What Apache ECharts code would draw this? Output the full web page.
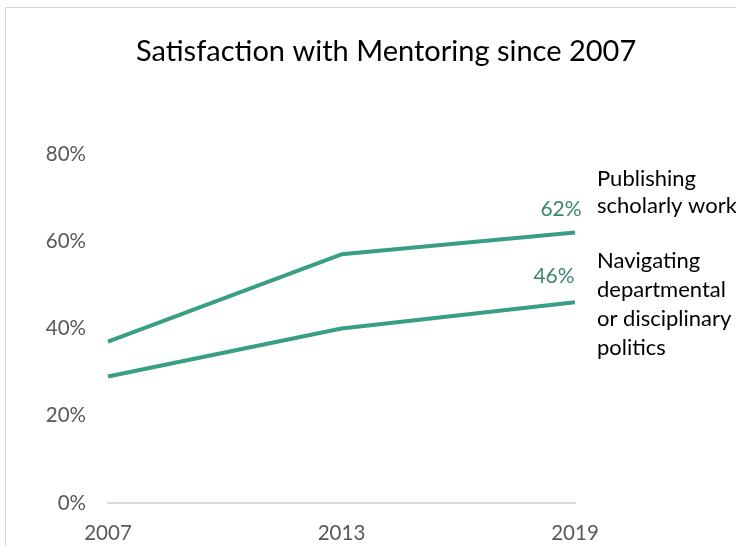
<!DOCTYPE html>
<html>
<head>
<meta charset="utf-8">
<script src="https://cdn.jsdelivr.net/npm/echarts@6/dist/echarts.min.js"></script>
<style>
  html, body { margin: 0; padding: 0; background: #fff; }
  #chart { width: 736px; height: 546px; }
</style>
</head>
<body>
<div id="chart"></div>
<script>
// Survey years and share satisfied (%)
const years = ['2007', '2013', '2019'];
const publishing = [37, 57, 62];
const navigating = [29, 40, 46];
const yTicks = [0, 20, 40, 60, 80];
const seriesNames = ['Publishing\nscholarly work', 'Navigating\ndepartmental\nor disciplinary\npolitics'];

const FONT = 'Lato, "Open Sans", sans-serif';
const LINE = '#3a9e85';
const LABEL = '#3b8571';

const chart = echarts.init(document.getElementById('chart'), null, { renderer: 'canvas' });

// Value label shown only on the last point of each line
function endLabel(offset) {
  return {
    show: true,
    position: 'top',
    offset: offset,
    color: LABEL,
    fontFamily: FONT,
    fontSize: 21,
    formatter: p => (p.dataIndex === years.length - 1 ? p.value + '%' : '')
  };
}

chart.setOption({
  animation: false,
  backgroundColor: '#fff',
  title: {
    text: 'Satisfaction with Mentoring since 2007',
    left: 131,
    top: 32,
    textStyle: { fontFamily: FONT, fontSize: 29, fontWeight: 'normal', color: '#000' }
  },
  graphic: [
    {
      type: 'rect',
      shape: { x: 5.5, y: 7.5, width: 800, height: 600 },
      style: { fill: 'none', stroke: '#d9d9d9', lineWidth: 1 },
      silent: true
    },
    {
      type: 'text', left: 597, top: 165,
      style: { text: seriesNames[0], fontFamily: FONT, fontSize: 22, lineHeight: 27, fill: '#000' }
    },
    {
      type: 'text', left: 597, top: 246,
      style: { text: seriesNames[1], fontFamily: FONT, fontSize: 22, lineHeight: 29, fill: '#000' }
    }
  ],
  grid: { left: 108, right: 161, top: 154, bottom: 43 },
  xAxis: {
    type: 'category',
    data: years,
    boundaryGap: false,
    axisLine: { show: true, lineStyle: { color: '#d9d9d9', width: 2 } },
    axisTick: { show: false },
    axisLabel: { color: '#595959', fontFamily: FONT, fontSize: 20.5, margin: 20 }
  },
  yAxis: {
    type: 'value',
    min: yTicks[0],
    max: yTicks[yTicks.length - 1],
    interval: 20,
    axisLine: { show: false },
    axisTick: { show: false },
    splitLine: { show: false },
    axisLabel: { color: '#595959', fontFamily: FONT, fontSize: 20.5, margin: 22, formatter: '{value}%' }
  },
  series: [
    {
      name: 'Publishing scholarly work',
      type: 'line',
      data: publishing,
      symbol: 'circle',
      symbolSize: 0,
      showSymbol: true,
      lineStyle: { color: LINE, width: 4 },
      itemStyle: { color: LINE },
      label: endLabel([-14, -8])
    },
    {
      name: 'Navigating departmental or disciplinary politics',
      type: 'line',
      data: navigating,
      symbol: 'circle',
      symbolSize: 0,
      showSymbol: true,
      lineStyle: { color: LINE, width: 4 },
      itemStyle: { color: LINE },
      label: endLabel([-21, -11])
    }
  ]
});
</script>
</body>
</html>
